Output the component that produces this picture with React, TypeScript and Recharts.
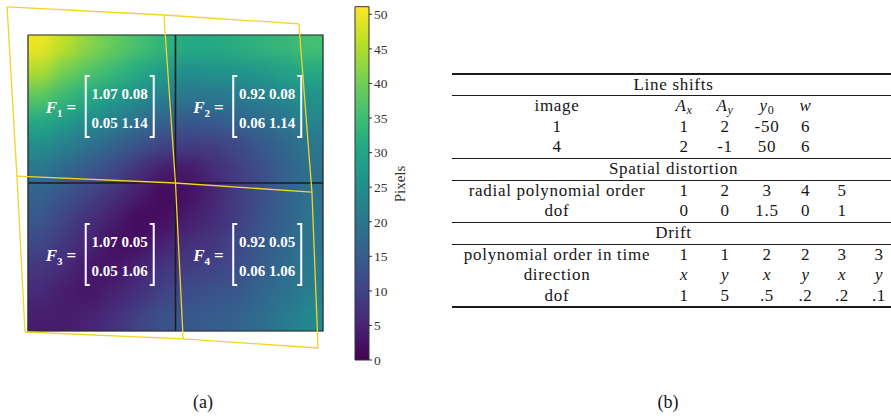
import React from "react";
import { ScatterChart, Scatter, XAxis, YAxis, BarChart, Bar } from "recharts";

// colormap + fonts
const VIRIDIS = ["#440154", "#482475", "#414487", "#355f8d", "#2a788e", "#21918c", "#22a884", "#44bf70", "#7ad151", "#bddf26", "#fde725"];
const SERIF = '"Liberation Serif", serif';
const WARP = "#f4d228";

// colour bar
const CB_MAX = 51.1;
const CB_TICKS = [0, 5, 10, 15, 20, 25, 30, 35, 40, 45, 50];

// distortion magnitude, 12 x 12 cells, top row first
const heatRows = [
  [50, 46, 42, 39, 36, 33, 31, 31, 32, 33, 34, 36],
  [45, 40, 37, 34, 31, 28, 25, 26, 26, 27, 29, 31],
  [38, 34, 31, 28, 25, 22, 20, 20, 21, 22, 24, 26],
  [31, 28, 25, 22, 19, 16, 14, 15, 16, 18, 20, 23],
  [25, 22, 19, 16, 13, 10, 9, 9, 11, 14, 17, 20],
  [20, 17, 14, 11, 7, 4, 3, 6, 9, 12, 16, 19],
  [16, 13, 10, 7, 4, 1, 2, 5, 9, 12, 16, 19],
  [14, 10, 7, 4, 1, 2, 4, 6, 9, 13, 16, 20],
  [11, 8, 5, 2, 2, 5, 7, 8, 11, 14, 17, 20],
  [8, 6, 3, 3, 5, 8, 9, 10, 12, 15, 18, 21],
  [6, 4, 3, 5, 7, 10, 12, 13, 14, 17, 19, 22],
  [4, 4, 5, 7, 10, 13, 14, 15, 16, 18, 21, 24],
];

// distorted quadrant corners (yellow), in cell units
const warpTop = [{ x: -0.85, y: -1.14 }, { x: 5.53, y: -0.81 }, { x: 11.02, y: -0.45 }];
const warpMid = [{ x: -0.45, y: 5.72 }, { x: 6.0, y: 6.0 }, { x: 11.55, y: 6.37 }];
const warpBot = [{ x: -0.12, y: 12.04 }, { x: 6.31, y: 12.32 }, { x: 11.8, y: 12.69 }];

const quadrants = [
  { x: 3, y: 3, name: "1", m: [["1.07", "0.08"], ["0.05", "1.14"]] },
  { x: 9, y: 3, name: "2", m: [["0.92", "0.08"], ["0.06", "1.14"]] },
  { x: 3, y: 9, name: "3", m: [["1.07", "0.05"], ["0.05", "1.06"]] },
  { x: 9, y: 9, name: "4", m: [["0.92", "0.05"], ["0.06", "1.06"]] },
];

// table
const COL_W = [210, 44, 38, 46, 31, 42, 32];
const lineShiftHeader = ["image", "A_x", "A_y", "y_0", "w"];
const lineShiftRows = [
  ["1", "1", "2", "-50", "6"],
  ["4", "2", "-1", "50", "6"],
];
const radialOrders = ["1", "2", "3", "4", "5"];
const radialDof = ["0", "0", "1.5", "0", "1"];
const driftOrders = ["1", "1", "2", "2", "3", "3"];
const driftDirections = ["x", "y", "x", "y", "x", "y"];
const driftDof = ["1", "5", ".5", ".2", ".2", ".1"];

function viridis(t: number) {
  const c = Math.max(0, Math.min(1, t)) * (VIRIDIS.length - 1);
  const i = Math.min(Math.floor(c), VIRIDIS.length - 2);
  const f = c - i;
  const a = VIRIDIS[i], b = VIRIDIS[i + 1];
  const ch = (s: string, k: number) => parseInt(s.slice(1 + 2 * k, 3 + 2 * k), 16);
  const mix = [0, 1, 2].map((k) => Math.round(ch(a, k) + (ch(b, k) - ch(a, k)) * f));
  return `rgb(${mix.join(",")})`;
}

const heatCells = heatRows.flatMap((row, r) => row.map((v, c) => ({ x: c + 0.5, y: r + 0.5, v })));
const frame = [{ x: 0, y: 0 }, { x: 12, y: 0 }, { x: 12, y: 12 }, { x: 0, y: 12 }, { x: 0, y: 0 }];
const splitV = [{ x: 6, y: 0 }, { x: 6, y: 12 }];
const splitH = [{ x: 0, y: 6 }, { x: 12, y: 6 }];

const LEFT_W = 350;
const LEFT_H = 362;
const LM = { left: 3.4, right: 2.43, top: 4.17, bottom: 6.33 };
const X_DOM = [-1, 13];
const Y_DOM = [-1.25, 13];
const CW = (LEFT_W - LM.left - LM.right) / (X_DOM[1] - X_DOM[0]);
const CH = (LEFT_H - LM.top - LM.bottom) / (Y_DOM[1] - Y_DOM[0]);

const HeatCell = (p: any) => (
  <rect x={p.cx - CW / 2 - 0.3} y={p.cy - CH / 2 - 0.3} width={CW + 0.6} height={CH + 0.6} fill={viridis(p.payload.v / CB_MAX)} />
);

const Nothing = () => <g />;

const MatrixMark = (p: any) => {
  const { cx, cy, payload } = p;
  const top = cy - 33;
  const bot = cy + 28;
  const lx = cx - 16;
  const rx = cx + 52;
  return (
    <g fill="#fff" fontFamily={SERIF} fontWeight="bold">
      <text x={cx - 56} y={cy + 4} fontSize={17}>
        <tspan fontStyle="italic">F</tspan>
        <tspan fontSize={11} dy={4}>{payload.name}</tspan>
        <tspan dy={-4} dx={4}>=</tspan>
      </text>
      <path d={`M${lx + 4},${top} H${lx} V${bot} H${lx + 4}`} stroke="#fff" strokeWidth={2} fill="none" />
      <path d={`M${rx - 4},${top} H${rx} V${bot} H${rx - 4}`} stroke="#fff" strokeWidth={2} fill="none" />
      <text x={cx + 18} y={cy - 10.5} textAnchor="middle" fontSize={15}>{payload.m[0].join(" ")}</text>
      <text x={cx + 18} y={cy + 19} textAnchor="middle" fontSize={15}>{payload.m[1].join(" ")}</text>
    </g>
  );
};

function DistortionMap() {
  const lineStyle = { stroke: WARP, strokeWidth: 1.3 };
  return (
    <ScatterChart width={LEFT_W} height={LEFT_H} margin={LM}>
      <XAxis type="number" dataKey="x" domain={X_DOM} hide />
      <YAxis type="number" dataKey="y" domain={Y_DOM} reversed hide />
      <Scatter className="heat" data={heatCells} shape={HeatCell} isAnimationActive={false} />
      <Scatter data={splitV} line={{ stroke: "#1d1d1d", strokeWidth: 1.6 }} shape={Nothing} isAnimationActive={false} />
      <Scatter data={splitH} line={{ stroke: "#1d1d1d", strokeWidth: 1.6 }} shape={Nothing} isAnimationActive={false} />
      <Scatter data={frame} line={{ stroke: "#2b2b2b", strokeWidth: 1.2 }} shape={Nothing} isAnimationActive={false} />
      <Scatter data={warpTop} line={lineStyle} shape={Nothing} isAnimationActive={false} />
      <Scatter data={warpMid} line={lineStyle} shape={Nothing} isAnimationActive={false} />
      <Scatter data={warpBot} line={lineStyle} shape={Nothing} isAnimationActive={false} />
      {[0, 1, 2].map((i) => (
        <Scatter key={i} data={[warpTop[i], warpMid[i], warpBot[i]]} line={lineStyle} shape={Nothing} isAnimationActive={false} />
      ))}
      <Scatter data={quadrants} shape={MatrixMark} isAnimationActive={false} />
    </ScatterChart>
  );
}

function ColourBar() {
  return (
    <BarChart width={90} height={372} data={[{ name: "cb", v: CB_MAX }]} margin={{ top: 6.7, right: 26, left: 15, bottom: 12 }} barCategoryGap={0}>
      <XAxis dataKey="name" hide />
      <YAxis
        orientation="right"
        domain={[0, CB_MAX]}
        ticks={CB_TICKS}
        width={35}
        axisLine={false}
        tickSize={3}
        tickMargin={2}
        tickLine={{ stroke: "#333" }}
        tick={{ fontSize: 13.5, fill: "#333", fontFamily: SERIF }}
      />
      <Bar dataKey="v" fill="url(#viridisV)" stroke="#333" strokeWidth={1} isAnimationActive={false} />
    </BarChart>
  );
}

function cellText(s: string, math: boolean) {
  if (!math) return s;
  const [base, sub] = s.split("_");
  return (
    <>
      <i>{base}</i>
      {sub !== undefined && (
        <span style={{ fontSize: 12, position: "relative", top: 3, fontStyle: sub === "0" ? "normal" : "italic" }}>{sub}</span>
      )}
    </>
  );
}

const ROW_H = 20.5;

function Row({ cells, mathFrom = 99 }: { cells: string[]; mathFrom?: number }) {
  return (
    <div style={{ display: "flex", height: ROW_H, lineHeight: `${ROW_H}px` }}>
      {COL_W.map((w, i) => (
        <div key={i} style={{ width: w, flex: "none", textAlign: "center", whiteSpace: "nowrap" }}>
          {cells[i] !== undefined ? cellText(cells[i], i >= mathFrom) : null}
        </div>
      ))}
    </div>
  );
}

const Rule = ({ h }: { h: number }) => <div style={{ height: h, background: "#1b1b1b" }} />;

const Title = ({ text }: { text: string }) => (
  <div style={{ height: ROW_H, lineHeight: `${ROW_H}px`, textAlign: "center" }}>{text}</div>
);

function ParamTable() {
  const width = COL_W.reduce((a, b) => a + b, 0);
  return (
    <div style={{ position: "absolute", left: 452, top: 73.2, width, fontFamily: SERIF, fontSize: 17, letterSpacing: 0.7, color: "#161616" }}>
      <Rule h={1.6} />
      <Title text="Line shifts" />
      <Rule h={1} />
      <Row cells={lineShiftHeader} mathFrom={1} />
      {lineShiftRows.map((r, i) => (
        <Row key={i} cells={r} />
      ))}
      <Rule h={1.6} />
      <Title text="Spatial distortion" />
      <Rule h={1} />
      <Row cells={["radial polynomial order", ...radialOrders]} />
      <Row cells={["dof", ...radialDof]} />
      <Rule h={1.6} />
      <Title text="Drift" />
      <Rule h={1} />
      <Row cells={["polynomial order in time", ...driftOrders]} />
      <Row cells={["direction", ...driftDirections]} mathFrom={1} />
      <Row cells={["dof", ...driftDof]} />
      <Rule h={1.6} />
    </div>
  );
}

export default function App() {
  return (
    <div style={{ position: "absolute", left: 0, top: 0, width: 891, height: 418, overflow: "hidden", background: "#fff" }}>
      <style>{`.heat { filter: url(#heatBlur); clip-path: url(#heatClip); }`}</style>
      <svg width={0} height={0} style={{ position: "absolute" }}>
        <defs>
          <linearGradient id="viridisV" x1="0" y1="1" x2="0" y2="0">
            {VIRIDIS.map((c, i) => (
              <stop key={i} offset={i / (VIRIDIS.length - 1)} stopColor={c} />
            ))}
          </linearGradient>
          <filter id="heatBlur" x="-5%" y="-5%" width="110%" height="110%" colorInterpolationFilters="sRGB">
            <feGaussianBlur stdDeviation={9} />
            <feComponentTransfer>
              <feFuncA type="table" tableValues="1 1" />
            </feComponentTransfer>
          </filter>
          <clipPath id="heatClip" clipPathUnits="objectBoundingBox">
            <rect x={0} y={0} width={1} height={1} />
          </clipPath>
        </defs>
      </svg>
      <div style={{ position: "absolute", left: 0, top: 0 }}>
        <DistortionMap />
      </div>
      <div style={{ position: "absolute", left: 340, top: 0 }}>
        <ColourBar />
      </div>
      <div
        style={{
          position: "absolute",
          left: 400,
          top: 184,
          transform: "translate(-50%, -50%) rotate(-90deg)",
          fontFamily: SERIF,
          fontSize: 15,
          color: "#333",
          whiteSpace: "nowrap",
        }}
      >
        Pixels
      </div>
      <ParamTable />
      <div style={{ position: "absolute", left: 203, top: 402, transform: "translate(-50%, -50%)", fontFamily: SERIF, fontSize: 18, color: "#161616" }}>(a)</div>
      <div style={{ position: "absolute", left: 668, top: 402, transform: "translate(-50%, -50%)", fontFamily: SERIF, fontSize: 18, color: "#161616" }}>(b)</div>
    </div>
  );
}
